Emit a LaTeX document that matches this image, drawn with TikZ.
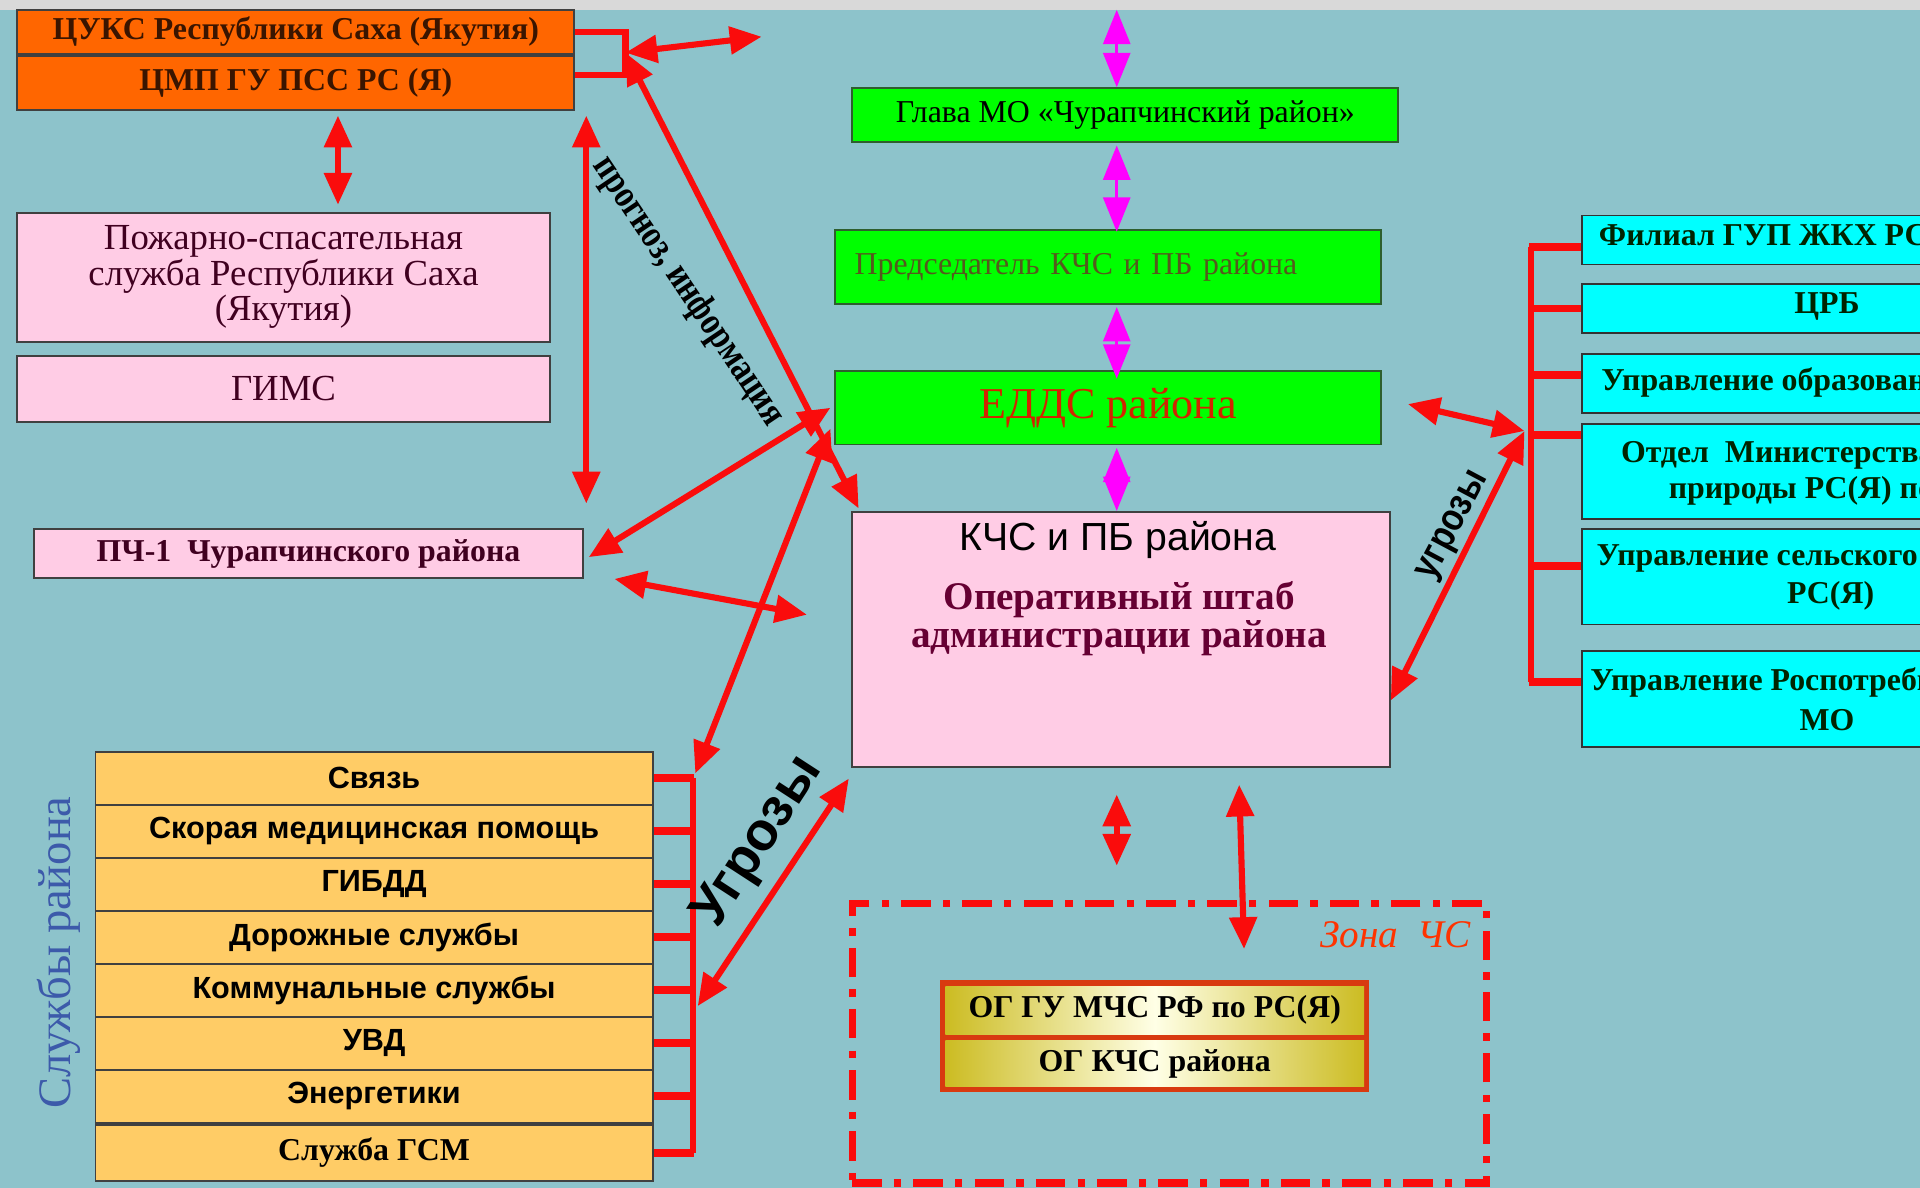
\documentclass[tikz,border=0pt]{standalone}
\usepackage{fontspec}
\setmainfont{Liberation Serif}
\setsansfont{Liberation Sans}
\usepackage{tikz}
\usetikzlibrary{positioning,calc,arrows.meta,shapes}
\def\px{0.5pt}
\definecolor{kcsbg}{RGB}{141,195,203}
\definecolor{kcsgray}{RGB}{217,217,217}
\definecolor{kcsorange}{RGB}{255,102,0}
\definecolor{kcsbrown}{RGB}{58,21,0}
\definecolor{kcspink}{RGB}{255,204,229}
\definecolor{kcsgreen}{RGB}{0,255,0}
\definecolor{kcsgreendark}{RGB}{46,94,46}
\definecolor{kcscyan}{RGB}{0,255,255}
\definecolor{kcsyellow}{RGB}{255,204,102}
\definecolor{kcsred}{RGB}{250,12,12}
\definecolor{kcsmagenta}{RGB}{255,0,255}
\definecolor{kcsmaroon}{RGB}{64,0,32}
\definecolor{kcswine}{RGB}{102,0,51}
\definecolor{kcsolive}{RGB}{85,90,30}
\definecolor{kcseddstext}{RGB}{210,36,0}
\definecolor{kcsblue}{RGB}{60,90,170}
\definecolor{kcszonetext}{RGB}{255,51,0}
\definecolor{kcsdark}{RGB}{0,36,0}
\definecolor{kcsbrick}{RGB}{216,58,16}
\definecolor{kcsgold}{RGB}{204,188,34}
\definecolor{kcscream}{RGB}{255,255,230}
\tikzset{
  kcs size/.style 2 args={minimum width=#1*\px, minimum height=#2*\px},
  kcs box/.style={rectangle, draw=black!75, line width=0.8pt, inner sep=0pt, align=center},
  kcs orange/.style={kcs box, fill=kcsorange, text=kcsbrown, font=\bfseries\fontsize{13}{15}\selectfont},
  kcs pink/.style={kcs box, fill=kcspink, text=kcsmaroon, font=\fontsize{15}{14.5}\selectfont},
  kcs green/.style={kcs box, fill=kcsgreen, draw=kcsgreendark, font=\fontsize{13}{15}\selectfont},
  kcs cyan/.style={kcs box, fill=kcscyan, draw=black!80},
  kcs service/.style={kcs box, fill=kcsyellow, kcs size={455}{43.25}, font=\sffamily\bfseries\fontsize{12.5}{14}\selectfont},
  kcs og/.style={rectangle, inner sep=0pt, kcs size={342}{39}, left color=kcsgold, right color=kcsgold, middle color=kcscream, font=\bfseries\fontsize{13}{15}\selectfont},
  kcs text/.style={inner sep=0pt, align=center},
  kcs right/.style={inner sep=0pt, anchor=west, text=kcsdark, font=\bfseries\fontsize{13}{15}\selectfont},
  kcs arrow/.style={draw=kcsred, line width=2.5pt, >={Triangle[length=13pt,width=11pt]}, <->},
  kcs magenta arrow/.style={draw=kcsmagenta, line width=1.2pt, >={Triangle[length=14pt,width=11pt]}, <->},
  kcs line/.style={draw=kcsred, line width=2.5pt},
  kcs tick/.style={draw=kcsred, line width=3.2pt},
  kcs zone/.style={rectangle, draw=kcsred, line width=3pt, dash pattern=on 12pt off 5pt on 3pt off 5pt, inner sep=0pt}
}
\begin{document}
\begin{tikzpicture}[x=\px, y=-\px, node distance=5pt, thick]
  % Background
  \useasboundingbox (0,0) rectangle (1568,970);
  \clip (0,0) rectangle (1568,970);
  \fill[kcsbg] (0,0) rectangle (1568,970);
  \fill[kcsgray] (0,0) rectangle (1568,8);

  % Republic level
  \node[kcs orange, kcs size={455}{36}] (cuks) at (241.5,26) {ЦУКС Республики Саха (Якутия)};
  \node[kcs orange, kcs size={455}{44}, below=0pt of cuks] (cmp) {ЦМП ГУ ПСС РС (Я)};
  \node[kcs pink, kcs size={435}{105}] (pozh) at (231.5,226.5) {Пожарно-спасательная\\служба Республики Саха\\(Якутия)};
  \node[kcs pink, kcs size={435}{54}, below=5pt of pozh] (gims) {ГИМС};
  \node[kcs pink, kcs size={448}{40}, font=\bfseries\fontsize{13}{15}\selectfont] (pch) at (252,452) {ПЧ-1~~Чурапчинского района};

  % District services
  \foreach \srv [count=\i] in {Связь, Скорая медицинская помощь, ГИБДД, Дорожные службы, Коммунальные службы, УВД, Энергетики}
    \node[kcs service] (svc\i) at (305.5,{614+43.25*(\i-0.5)}) {\srv};
  \node[kcs service, kcs size={455}{46}, font=\bfseries\fontsize{13}{15}\selectfont, below=0pt of svc7] (svc8) {Служба ГСМ};
  \node[kcs text, rotate=90, text=kcsblue, font=\fontsize{19}{21}\selectfont] (svclbl) at (48,778) {Службы района};

  % District management
  \coordinate (axis) at (912,0);
  \coordinate (topend) at (912,8);
  \node[kcs green, kcs size={446}{44}] (glava) at (919,94) {Глава МО «Чурапчинский район»};
  \node[kcs green, kcs size={446}{60}, align=left, text width=207pt, inner xsep=8pt, text=kcsolive] (pred) at (905,218) {Председатель КЧС и ПБ района};
  \node[kcs green, kcs size={446}{60}, text=kcseddstext, font=\fontsize{18}{20}\selectfont] (edds) at (905,333) {ЕДДС района};
  \node[kcs box, fill=kcspink, kcs size={439}{208}] (kchs) at (915.5,522) {};
  \node[kcs text, font=\sffamily\fontsize{16}{18}\selectfont] (kchsname) at (913,441) {КЧС и ПБ района};
  \node[kcs text, text=kcswine, font=\bfseries\fontsize{16}{13}\selectfont] (kchsstaff) at (914,505) {Оперативный штаб\\администрации района};

  % Emergency zone
  \node[kcs zone, kcs size={518}{228}] (zone) at (955,852) {};
  \node[kcs text, anchor=east, text=kcszonetext, font=\itshape\fontsize{16}{18}\selectfont] (zonelbl) at (1202,763) {Зона~~ЧС};
  \node[rectangle, fill=kcsbrick, inner sep=0pt, kcs size={350}{92}] (og) at (943,846) {};
  \node[kcs og] (og1) at (943,825) {ОГ ГУ МЧС РФ по РС(Я)};
  \node[kcs og, kcs size={342}{37}] (og2) at (943,868.5) {ОГ КЧС района};

  % Republic agencies
  \node[kcs cyan, kcs size={420}{40}, anchor=west] (r1) at (1291,196) {};
  \node[kcs cyan, kcs size={420}{40}, anchor=west] (r2) at (1291,252) {};
  \node[kcs cyan, kcs size={420}{48}, anchor=west] (r3) at (1291,313) {};
  \node[kcs cyan, kcs size={420}{78}, anchor=west] (r4) at (1291,385) {};
  \node[kcs cyan, kcs size={420}{78}, anchor=west] (r5) at (1291,471) {};
  \node[kcs cyan, kcs size={420}{78}, anchor=west] (r6) at (1291,571) {};
  \node[kcs right] (r1t) at (1305,194) {Филиал ГУП ЖКХ РС(Я)};
  \node[kcs right, anchor=center] (r2t) at (1492,250) {ЦРБ};
  \node[kcs right] (r3t) at (1307,312) {Управление образования};
  \node[kcs right] (r4t) at (1323,372) {Отдел~~Министерства};
  \node[kcs right] (r4u) at (1362,401) {природы РС(Я) по};
  \node[kcs right] (r5t) at (1303,456) {Управление сельского};
  \node[kcs right, anchor=center] (r5u) at (1495,487) {РС(Я)};
  \node[kcs right] (r6t) at (1298,557) {Управление Роспотребнадзора};
  \node[kcs right, anchor=center] (r6u) at (1492,588) {МО};

  % Brackets
  \draw[kcs line] (cuks.east) -- ++(41,0) coordinate (brktop) |- ($(cmp.east)+(0,-6)$);
  \coordinate (brk) at ($(brktop)+(0,17)$);
  \coordinate (cuksout) at (622,30);
  \foreach \i in {1,...,8}
    \draw[kcs tick] (svc\i.east) -- ++(33,0);
  \draw[kcs line] ($(svc1.east)+(32,0)$) -- ($(svc8.east)+(32,0)$);
  \foreach \b/\dy in {r1/6, r2/0, r3/-7, r4/-30, r5/-9, r6/-14}
    \draw[kcs tick] ($(\b.west)+(0,\dy)$) -- ++(-42,0);
  \draw[kcs line] ($(r1.west)+(-41,6)$) -- ($(r6.west)+(-41,-14)$);
  \coordinate (rbhub) at ($(r4.west)+(-46,-33)$);

  % Information links
  \draw[kcs magenta arrow] (topend) -- (glava.north -| axis);
  \draw[kcs magenta arrow] ($(glava.south -| axis)+(0,2)$) -- ($(pred.north -| axis)+(0,2)$);
  \draw[kcs magenta arrow] ($(pred.south -| axis)+(0,2)$) -- ($(edds.north -| axis)+(0,7)$);
  \draw[kcs magenta arrow] ($(edds.south -| axis)+(0,2)$) -- (kchs.north -| axis);
  \draw[kcs arrow] (brk) -- (cuksout);
  \draw[kcs arrow] (brk) -- ($(kchs.north west)+(6,-2)$);
  \draw[kcs arrow] ($(cmp.south east)+(9,4)$) -- ($(pch.north east)+(2,-20)$);
  \draw[kcs arrow] ($(cmp.south)+(34.5,4)$) -- ($(pozh.north)+(44.5,-6)$);
  \draw[kcs arrow] ($(edds.west)+(-3,0)$) -- ($(pch.east)+(4,3)$);
  \coordinate (pchdn) at ($(pch.south east)+(25,0)$);
  \coordinate (crossend) at (659,502);
  \draw[kcs arrow] (pchdn) -- (crossend);
  \draw[kcs arrow] ($(edds.west)+(-3,17)$) -- ($(svc1.east)+(34,-4)$);
  \draw[kcs arrow] ($(svc5.east)+(36,13)$) -- ($(kchs.south west)+(-2,9)$);
  \draw[kcs arrow] ($(edds.east)+(21,-3)$) -- (rbhub);
  \draw[kcs arrow] (rbhub) -- ($(kchs.east)+(0,50)$);
  \draw[kcs arrow] ($(kchs.south -| axis)+(0,22)$) -- ($(zone.north -| axis)+(0,-28)$);
  \draw[kcs arrow] ($(kchs.south)+(96.5,14)$) -- ($(zone.north)+(61,40)$);

  % Labels
  \node[kcs text, rotate=-56, xscale=0.82, font=\bfseries\fontsize{16}{18}\selectfont] (forecast) at (562,238) {прогноз, информация};
  \node[kcs text, rotate=57, font=\sffamily\bfseries\fontsize{22}{24}\selectfont] (threatl) at (620,688) {Угрозы};
  \node[kcs text, rotate=62, xscale=0.85, font=\sffamily\bfseries\fontsize{16}{18}\selectfont] (threatr) at (1188,430) {угрозы};
\end{tikzpicture}
\end{document}
